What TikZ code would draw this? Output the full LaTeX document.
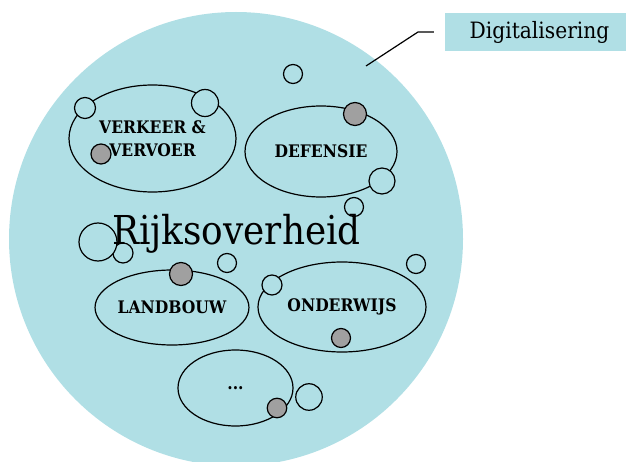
\documentclass[tikz,border=0pt]{standalone}
\usepackage{fontspec}
\setmainfont{DejaVu Serif Condensed}
\usetikzlibrary{shapes.geometric}
\definecolor{rijks}{RGB}{176,223,229}
\definecolor{dotgray}{RGB}{160,160,160}
\tikzset{
  sector/.style={draw, line width=1.2pt, ellipse, inner sep=0pt, align=center,
    font=\fontsize{17.3}{23}\selectfont\bfseries},
  hollow/.style={circle, draw, line width=1.2pt, fill=rijks, inner sep=0pt},
  solid dot/.style={circle, draw, line width=1.2pt, fill=dotgray, inner sep=0pt},
  labelbox/.style={fill=rijks, inner sep=0pt, font=\fontsize{22.5}{26}\selectfont},
}
\begin{document}
\begin{tikzpicture}[x=1pt,y=-1pt]
\useasboundingbox (0,0) rectangle (626,462);
\clip (0,0) rectangle (626,462);

% the government as one big disc
\fill[rijks] (236,239) circle[radius=227];

% policy sectors
\node[sector, minimum width=167, minimum height=107] (verkeer) at (152.5,138.5) {VERKEER \&\\VERVOER};
\node[sector, minimum width=152, minimum height=91] (defensie) at (321,151.5) {DEFENSIE};
\node[sector, minimum width=152, minimum height=75] (landbouw) at (172,307.5) {LANDBOUW};
\node[sector, minimum width=168, minimum height=90] (onderwijs) at (342,307) {ONDERWIJS};
\node[sector, minimum width=115, minimum height=76] (overig) at (235.5,388) {...};

% digital initiatives
\node[hollow, minimum size=21] (h1) at (85,108) {};
\node[hollow, minimum size=27] (h2) at (205,103) {};
\node[hollow, minimum size=19] (h3) at (293,74) {};
\node[hollow, minimum size=26] (h4) at (382,181) {};
\node[hollow, minimum size=19] (h5) at (354,207) {};
\node[hollow, minimum size=20] (h6) at (123,253) {};
\node[hollow, minimum size=38] (h7) at (98,242) {};
\node[hollow, minimum size=19] (h8) at (227,263) {};
\node[hollow, minimum size=20] (h9) at (272,285) {};
\node[hollow, minimum size=19] (h10) at (416,264) {};
\node[hollow, minimum size=26.5] (h11) at (309,397) {};

\node[solid dot, minimum size=20] (f1) at (101,154) {};
\node[solid dot, minimum size=23] (f2) at (355,114) {};
\node[solid dot, minimum size=23] (f3) at (181,274) {};
\node[solid dot, minimum size=19] (f4) at (341,338) {};
\node[solid dot, minimum size=19.5] (f5) at (277,408) {};

% title
\node[anchor=base, inner sep=0pt, font=\fontsize{39.8}{44}\selectfont] (rijk) at (236.5,245) {Rijksoverheid};

% label with leader line
\node[labelbox, minimum width=189, minimum height=38] (dig) at (539.5,32) {Digitalisering};
\coordinate (tip) at (366,66);
\coordinate (elbow) at (418,32);
\draw[line width=1.2pt, shorten >=11pt] (tip) -- (elbow) -- (dig.west);
\end{tikzpicture}
\end{document}
